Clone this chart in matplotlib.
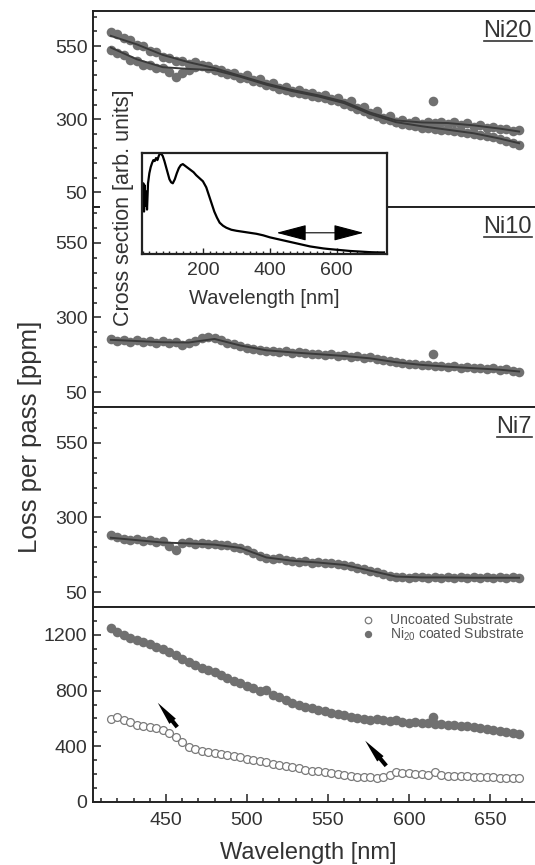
import matplotlib
matplotlib.use('Agg')
import matplotlib.pyplot as plt
from matplotlib.patches import Rectangle
from matplotlib.lines import Line2D
from matplotlib.ticker import MultipleLocator, FixedLocator

plt.rcParams['font.family'] = ['Liberation Sans', 'DejaVu Sans']
plt.rcParams['mathtext.fontset'] = 'custom'
plt.rcParams['mathtext.rm'] = 'Liberation Sans'
plt.rcParams['mathtext.it'] = 'Liberation Sans:italic'

# wavelength grid of the loss measurements [nm]
wl = [416, 420, 424, 428, 432, 436, 440, 444, 448, 452,
      456, 460, 464, 468, 472, 476, 480, 484, 488, 492,
      496, 500, 504, 508, 512, 516, 520, 524, 528, 532,
      536, 540, 544, 548, 552, 556, 560, 564, 568, 572,
      576, 580, 584, 588, 592, 596, 600, 604, 608, 612,
      616, 620, 624, 628, 632, 636, 640, 644, 648, 652,
      656, 660, 664, 668]

# Ni20, two measurement runs
ni20_a = [598, 590, 576, 570, 554, 549, 533, 529, 514, 510,
          500, 499, 490, 495, 484, 482, 471, 469, 458, 457,
          446, 451, 433, 438, 419, 424, 406, 411, 396, 399,
          388, 391, 379, 384, 368, 372, 355, 361, 337, 343,
          320, 327, 303, 310, 292, 296, 287, 293, 284, 291,
          287, 292, 284, 289, 280, 286, 274, 280, 270, 274,
          265, 268, 259, 262]
ni20_b = [538, 527, 520, 503, 499, 487, 485, 474, 476, 462,
          446, 458, 470, 478, 481, 474, 468, 463, 455, 452,
          442, 440, 430, 427, 416, 414, 404, 400, 393, 390,
          385, 380, 377, 371, 366, 361, 352, 345, 334, 329,
          318, 312, 302, 297, 289, 285, 279, 276, 271, 270,
          266, 264, 262, 259, 256, 254, 250, 247, 243, 238,
          232, 226, 218, 211]
ni10 = [228, 222, 226, 219, 224, 218, 222, 216, 220, 214,
        217, 209, 214, 222, 230, 236, 232, 224, 216, 211,
        204, 199, 194, 190, 187, 189, 184, 186, 181, 184,
        180, 177, 179, 174, 176, 171, 173, 168, 170, 165,
        166, 161, 158, 153, 151, 146, 144, 143, 140, 141,
        137, 139, 134, 137, 131, 134, 129, 132, 127, 129,
        124, 126, 121, 117]
ni7 = [240, 233, 229, 224, 228, 221, 225, 218, 222, 204,
       192, 215, 218, 212, 214, 210, 211, 207, 208, 202,
       198, 190, 182, 172, 164, 160, 163, 156, 154, 151,
       153, 148, 151, 146, 149, 145, 142, 138, 132, 127,
       121, 117, 109, 104, 102, 100, 98, 101, 99, 97,
       100, 98, 101, 97, 99, 96, 100, 97, 99, 96,
       100, 97, 101, 98]
coated = [1250, 1222, 1198, 1178, 1160, 1148, 1132, 1115, 1095, 1078,
          1055, 1030, 1008, 985, 962, 945, 930, 912, 890, 870,
          852, 835, 815, 798, 802, 770, 752, 730, 712, 698,
          685, 675, 662, 652, 642, 634, 622, 612, 604, 596,
          590, 598, 586, 582, 588, 575, 570, 574, 565, 568,
          562, 560, 556, 552, 548, 544, 536, 530, 524, 516,
          508, 500, 494, 490]
uncoated = [598, 612, 590, 572, 556, 548, 540, 532, 515, 496,
            470, 428, 398, 382, 366, 356, 350, 345, 338, 328,
            320, 310, 300, 292, 284, 276, 268, 258, 250, 242,
            232, 226, 222, 214, 205, 198, 193, 186, 182, 178,
            176, 172, 178, 196, 214, 210, 206, 202, 200, 196,
            215, 194, 190, 188, 186, 184, 182, 180, 178, 176,
            175, 174, 172, 171]

# single outlying points
out_wl = 615
out_ni20, out_ni10, out_coated = 362, 176, 612

# smooth fits
wl_fit = [416, 432, 448, 464, 480, 496, 512, 528, 544, 560, 576, 592, 608, 624, 640, 656, 668]
fit20_a = [585, 556, 520, 495, 475, 448, 422, 400, 382, 360, 323, 296, 289, 287, 279, 268, 258]
fit20_b = [545, 505, 478, 472, 468, 445, 418, 396, 378, 355, 318, 290, 276, 264, 252, 234, 218]
fit10 = [225, 221, 217, 216, 228, 206, 190, 183, 177, 171, 163, 150, 141, 135, 130, 125, 119]
fit7 = [232, 224, 216, 213, 209, 198, 166, 155, 149, 141, 122, 102, 99, 99, 98, 98, 98]

# inset: cross section spectrum
cs_wl = [20, 22, 24, 26, 28, 30, 33, 36, 40, 44, 48, 52, 56, 60, 64, 68, 72, 76, 80, 85,
         90, 95, 100, 105, 110, 116, 122, 128, 134, 140, 148, 156, 164, 172, 180, 190,
         200, 210, 218, 226, 234, 242, 250, 260, 270, 285, 300, 320, 340, 360, 380,
         400, 420, 440, 460, 480, 500, 520, 540, 560, 580, 600, 620, 640, 660, 680,
         700, 720, 740]
cs_val = [0.45, 0.70, 0.42, 0.68, 0.48, 0.62, 0.44, 0.70, 0.80, 0.86, 0.90, 0.93, 0.92,
          0.95, 0.93, 0.97, 1.0, 0.99, 0.97, 0.92, 0.86, 0.80, 0.74, 0.71, 0.70, 0.74,
          0.80, 0.85, 0.88, 0.89, 0.87, 0.85, 0.83, 0.81, 0.78, 0.75, 0.72, 0.66, 0.58,
          0.50, 0.42, 0.36, 0.31, 0.28, 0.26, 0.24, 0.23, 0.22, 0.21, 0.20, 0.185, 0.165,
          0.15, 0.135, 0.12, 0.105, 0.09, 0.075, 0.065, 0.055, 0.048, 0.042, 0.036, 0.03,
          0.026, 0.022, 0.018, 0.016, 0.015]

panel_names = ['Ni20', 'Ni10', 'Ni7']

DOT = '#707070'
LINE = '#3a3a3a'
TXT = '#333333'
SPINE = '#222222'
S_DOT = 48

W, H = 535, 865


def box(x0, y0, x1, y1):
    return [x0 / W, 1 - y1 / H, (x1 - x0) / W, (y1 - y0) / H]


fig = plt.figure(figsize=(W / 100, H / 100), dpi=100)

rows = [(11, 207), (207, 407), (407, 607), (607, 802)]
axes = [fig.add_axes(box(93, t, 541, b)) for t, b in rows]

for ax in axes:
    ax.set_xlim(405, 681.5)
    for s in ax.spines.values():
        s.set_linewidth(1.4)
        s.set_color(SPINE)
    ax.tick_params(which='both', direction='in', color=SPINE, width=1.1,
                   labelsize=14, labelcolor=TXT, pad=4)
    ax.tick_params(which='major', length=5.5)
    ax.tick_params(which='minor', length=3)
    ax.tick_params(axis='x', top=False)
    ax.tick_params(axis='y', right=False)

for ax in axes[:3]:
    ax.set_ylim(0, 670)
    ax.yaxis.set_major_locator(FixedLocator([50, 300, 550]))
    ax.yaxis.set_minor_locator(MultipleLocator(50))
    ax.tick_params(axis='x', which='both', bottom=False, labelbottom=False)

ax20, ax10, ax7, axb = axes

ax20.scatter(wl, ni20_a, s=S_DOT, color=DOT, lw=0, zorder=2)
ax20.scatter(wl, ni20_b, s=S_DOT, color=DOT, lw=0, zorder=2)
ax20.scatter([out_wl], [out_ni20], s=S_DOT, color=DOT, lw=0, zorder=2)
ax20.plot(wl_fit, fit20_a, color=LINE, lw=1.4, zorder=3)
ax20.plot(wl_fit, fit20_b, color=LINE, lw=1.4, zorder=3)

ax10.scatter(wl, ni10, s=S_DOT, color=DOT, lw=0, zorder=2)
ax10.scatter([out_wl], [out_ni10], s=S_DOT, color=DOT, lw=0, zorder=2)
ax10.plot(wl_fit, fit10, color=LINE, lw=1.4, zorder=3)

ax7.scatter(wl, ni7, s=S_DOT, color=DOT, lw=0, zorder=2)
ax7.plot(wl_fit, fit7, color=LINE, lw=1.4, zorder=3)

axb.set_ylim(0, 1400)
axb.yaxis.set_major_locator(FixedLocator([0, 400, 800, 1200]))
axb.yaxis.set_minor_locator(MultipleLocator(100))
axb.xaxis.set_major_locator(FixedLocator([450, 500, 550, 600, 650]))
axb.xaxis.set_minor_locator(MultipleLocator(10))
axb.tick_params(axis='x', pad=7)
axb.scatter(wl, uncoated, s=32, facecolor='white', edgecolor='#7a7a7a', lw=0.9, zorder=2)
axb.scatter(wl, coated, s=S_DOT, color=DOT, lw=0, zorder=2)
axb.scatter([out_wl], [out_coated], s=S_DOT, color=DOT, lw=0, zorder=2)

arrow = dict(arrowstyle='simple,head_length=1.7,head_width=0.6,tail_width=0.3',
             color='black', lw=0, shrinkA=0, shrinkB=0)
axb.annotate('', xy=(445, 712), xytext=(457, 538), arrowprops=arrow)
axb.annotate('', xy=(573, 440), xytext=(586, 260), arrowprops=arrow)

# legend drawn by hand to keep the tight line spacing of the original
axb.scatter([0.614], [0.935], s=22, facecolor='white', edgecolor='#7a7a7a', lw=0.9,
            transform=axb.transAxes, clip_on=False, zorder=4)
axb.scatter([0.614], [0.862], s=28, color=DOT, lw=0,
            transform=axb.transAxes, clip_on=False, zorder=4)
axb.text(0.663, 0.935, 'Uncoated Substrate', transform=axb.transAxes, fontsize=10,
         color='#555555', va='center', ha='left')
axb.text(0.663, 0.862, 'Ni$_{20}$ coated Substrate', transform=axb.transAxes, fontsize=10,
         color='#555555', va='center', ha='left')

# panel names, underlined
name_texts = []
for ax, name in zip(axes[:3], panel_names):
    t = ax.text(0.98, 0.9, name, transform=ax.transAxes, fontsize=17, color=TXT,
                ha='right', va='center')
    name_texts.append(t)

# hide the panel separator next to the inset
fig.add_artist(Rectangle((100 / W, 1 - 214 / H), 43 / W, 14 / H, transform=fig.transFigure,
                         facecolor='white', edgecolor='none', zorder=1))

ins = fig.add_axes(box(142, 153, 387, 254))
ins.set_zorder(3)
ins.set_facecolor('white')
ins.plot(cs_wl, cs_val, color='black', lw=1.6)
ins.set_xlim(18, 750)
ins.set_ylim(0, 1.0)
ins.set_yticks([])
ins.xaxis.set_major_locator(FixedLocator([200, 400, 600]))
ins.xaxis.set_minor_locator(MultipleLocator(20))
ins.tick_params(axis='x', which='both', direction='in', color=SPINE, labelsize=14,
                labelcolor=TXT, pad=6, width=1.0)
ins.tick_params(axis='x', which='major', length=4)
ins.tick_params(axis='x', which='minor', length=2)
for s in ins.spines.values():
    s.set_linewidth(1.6)
    s.set_color(SPINE)
ins.set_xlabel('Wavelength [nm]', fontsize=14.5, color=TXT, labelpad=7)
ins.annotate('', xy=(680, 0.21), xytext=(420, 0.21),
             arrowprops=dict(arrowstyle='<|-|>,head_length=1.9,head_width=0.5',
                             color='black', lw=0.8, shrinkA=0, shrinkB=0))

fig.text(123 / W, 1 - 208 / H, 'Cross section [arb. units]', rotation=90, ha='center',
         va='center', fontsize=15.5, color=TXT, zorder=5)

fig.text(30 / W, 1 - 437 / H, 'Loss per pass [ppm]', rotation=90, ha='center', va='center',
         fontsize=18.5, color=TXT)
fig.text(308 / W, 1 - 853 / H, 'Wavelength [nm]', ha='center', va='center', fontsize=17,
         color=TXT)

fig.canvas.draw()
inv = fig.transFigure.inverted()
for t in name_texts:
    bb = t.get_window_extent()
    (x0, y0), (x1, _) = inv.transform([(bb.x0, bb.y0 + 1), (bb.x1, bb.y0 + 1)])
    fig.add_artist(Line2D([x0, x1], [y0, y0], transform=fig.transFigure, color=TXT, lw=1.2))

fig.savefig('out.png', dpi=100)
